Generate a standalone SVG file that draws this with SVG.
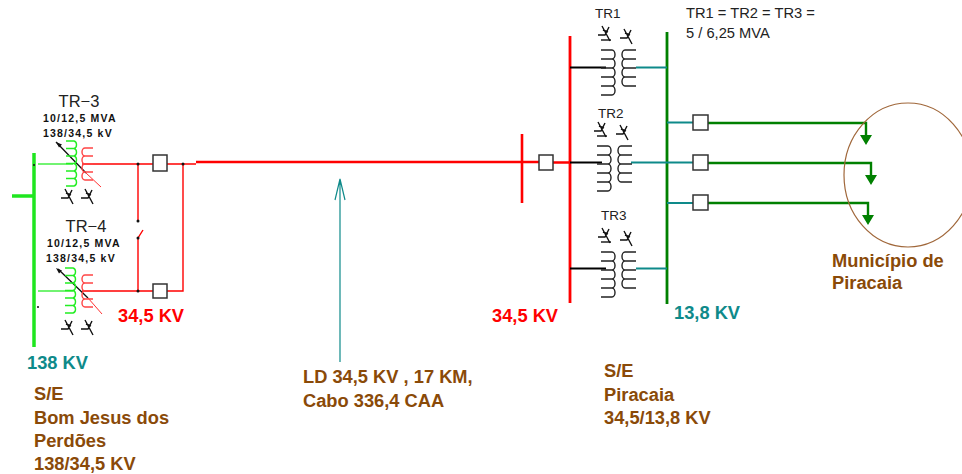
<svg xmlns="http://www.w3.org/2000/svg" width="962" height="474" viewBox="0 0 962 474">
<style>
text{font-family:"Liberation Sans",Arial,sans-serif}
.b{font-weight:700;font-size:18.300px}
.br{fill:#8a4a08}.rd{fill:#f00}.tl{fill:#0e8a8a}
.n{font-size:13.500px;fill:#222}
.m{font-size:14.700px;fill:#222}
.s{font-size:10.500px;fill:#111;letter-spacing:1.200px;font-weight:700}
.t{font-size:16.500px;fill:#222}
.coil{fill:none;stroke-width:1.400}
.k{stroke:#222}.g{stroke:#22ee22}.r{stroke:#f44}
.box{fill:#fff;stroke:#333;stroke-width:1.500}
.dot{fill:#111}
.sym{fill:none;stroke:#111;stroke-width:1.400}
</style>
<defs>
<path id="prim" d="M0 0H10M0 10H11A3 4.500 0 0 1 11 19H0M11 19A3 4.500 0 0 1 11 28H0M11 28A3 4.500 0 0 1 11 37H0M11 37A3 4.500 0 0 1 11 46H0M11 46A3 4.500 0 0 1 11 55H0"/>
<path id="sec" d="M14 0H3A3 4.500 0 0 0 3 9H14M3 9A3 4.500 0 0 0 3 18H14M3 18A3 4.500 0 0 0 3 27H14M3 27A3 4.500 0 0 0 3 36H14"/>
<path id="gp" d="M0 0H8A3 3.800 0 0 1 8 7.500H0M8 7.500A3 3.800 0 0 1 8 15H0M8 15A3 3.800 0 0 1 8 22.500H0M8 22.500A3 3.800 0 0 1 8 30H0M8 30A3 3.800 0 0 1 8 37.500H0M8 37.500A3 3.800 0 0 1 8 45H0"/>
<path id="rs" d="M11 0H3A3 4 0 0 0 3 8H11M3 8A3 4 0 0 0 3 16H11M3 16A3 4 0 0 0 3 24H11M3 24A3 4 0 0 0 3 32H11"/>
<g id="star"><path class="sym" d="M-7 3H0L4 -5M-3 -6L5 9M-2 -2L3 0"/></g>
</defs>
<g id="connectors" fill="none">
<g stroke="#f00" stroke-width="1.400">
<path d="M82 164H153M167 164H196"/>
<path d="M138 164V221M143 230L138 238V291"/>
<path d="M183 164V291H167M82 291H153"/>
</g>
<path d="M196 162H539M553 162.500H570" stroke="#f00" stroke-width="2.600"/>
<path d="M522 134V203" stroke="#f00" stroke-width="2.600"/>
<path d="M570 36V303" stroke="#f00" stroke-width="2.800"/>
<path d="M667 32V304" stroke="#008000" stroke-width="2.800"/>
<path d="M34 153V347" stroke="#1fe61f" stroke-width="3.500"/>
<path d="M12 196H34" stroke="#1fe61f" stroke-width="3.500"/>
<path d="M38 164H73M38 291H73" stroke="#44f044" stroke-width="1.300"/>
<path d="M570 67.500H606M570 162.500H602M570 268.500H606" stroke="#000" stroke-width="2.200"/>
<path d="M636 67.500H667M631 162.500H667M636 268.500H667M667 122.500H693M667 162.500H693M667 203H693" stroke="#0e8a8a" stroke-width="2.200"/>
<path d="M708 123H866V138M708 163H871V178M708 203H868V218" stroke="#008000" stroke-width="2.400"/>
<path d="M340 362V179M335 200L340 179L345 200" stroke="#0e8a8a" stroke-width="1.200"/>
<path d="M56 142L86 173M58 269L88 298" stroke="#111" stroke-width="1.300"/>
<path d="M86 173L101 187M88 298L102 314" stroke="#f33" stroke-width="1"/>
<path d="M56 142l6 2.500l-3 3zM56 268l6 2.500l-3 3z" fill="#111"/>
<path d="M860 135h12l-6 10zM865 175h12l-6 10zM862 215h12l-6 10z" fill="#008000"/>
<g class="dot"><circle cx="34" cy="165" r="1"/><circle cx="38" cy="307" r="1"/><circle cx="138" cy="164" r="1.500"/><circle cx="183" cy="164" r="1.500"/><circle cx="138" cy="221" r="1.500"/><circle cx="138" cy="238" r="1.500"/><circle cx="138" cy="291" r="1.500"/></g>
</g>
<ellipse id="municipio" cx="908" cy="175" rx="64" ry="72" fill="none" stroke="#a0673a" stroke-width="1.200"/>
<g id="tr3-left">
<use href="#gp" x="66" y="141" class="coil g"/><use href="#rs" x="82" y="148" class="coil r"/>
<use href="#star" x="68" y="195"/><use href="#star" x="88" y="195"/>
<text x="79" y="107" class="t" text-anchor="middle">TR−3</text>
<text x="43" y="122" class="s">10/12,5 MVA</text>
<text x="43" y="137" class="s">138/34,5 kV</text>
</g>
<g id="tr4-left">
<use href="#gp" x="65" y="268" class="coil g"/><use href="#rs" x="82" y="275" class="coil r"/>
<use href="#star" x="68" y="326"/><use href="#star" x="88" y="326"/>
<text x="86" y="232" class="t" text-anchor="middle">TR−4</text>
<text x="47" y="247" class="s">10/12,5 MVA</text>
<text x="46" y="262" class="s">138/34,5 kV</text>
</g>
<g id="breakers">
<rect class="box" x="153" y="155" width="14" height="16"/>
<rect class="box" x="153" y="284" width="14" height="14"/>
<rect class="box" x="539" y="155" width="14" height="15"/>
<rect class="box" x="693" y="115" width="15" height="15"/>
<rect class="box" x="693" y="155" width="15" height="15"/>
<rect class="box" x="693" y="195" width="15" height="15"/>
</g>
<g id="tr1">
<use href="#prim" x="601" y="40" class="coil k"/><use href="#sec" x="622" y="50" class="coil k"/>
<use href="#star" x="605" y="32"/><use href="#star" x="627" y="35"/>
<text x="595" y="18" class="n">TR1</text>
</g>
<g id="tr2">
<use href="#prim" x="597" y="136" class="coil k"/><use href="#sec" x="618" y="146" class="coil k"/>
<use href="#star" x="601" y="128"/><use href="#star" x="623" y="131"/>
<text x="598" y="118" class="n">TR2</text>
</g>
<g id="tr3">
<use href="#prim" x="601" y="242" class="coil k"/><use href="#sec" x="622" y="252" class="coil k"/>
<use href="#star" x="605" y="234"/><use href="#star" x="627" y="237"/>
<text x="601" y="220" class="n">TR3</text>
</g>
<g id="labels">
<text x="686" y="18" class="m">TR1 = TR2 = TR3 =</text>
<text x="686" y="38" class="m">5 / 6,25 MVA</text>
<text x="118" y="322" class="b rd">34,5 KV</text>
<text x="492" y="322" class="b rd">34,5 KV</text>
<text x="674" y="319" class="b tl">13,8 KV</text>
<text x="27" y="369" class="b tl">138 KV</text>
<text x="34" y="400" class="b br">S/E</text>
<text x="34" y="424" class="b br">Bom Jesus dos</text>
<text x="34" y="447" class="b br">Perdões</text>
<text x="34" y="470" class="b br">138/34,5 KV</text>
<text x="303" y="383" class="b br">LD 34,5 KV , 17 KM,</text>
<text x="303" y="407" class="b br">Cabo 336,4 CAA</text>
<text x="604" y="377" class="b br">S/E</text>
<text x="604" y="401" class="b br">Piracaia</text>
<text x="604" y="424" class="b br">34,5/13,8 KV</text>
<text x="832" y="267" class="b br">Município de</text>
<text x="832" y="289" class="b br">Piracaia</text>
</g>
</svg>
